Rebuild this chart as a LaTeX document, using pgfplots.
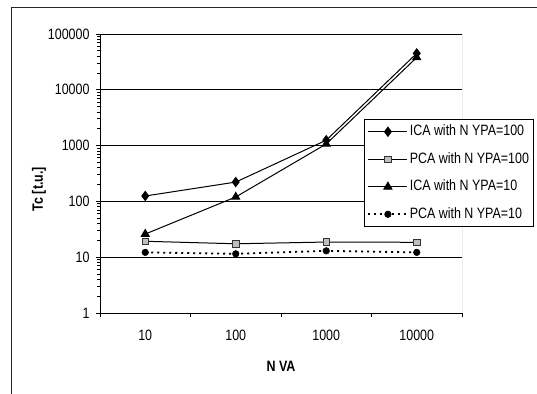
\documentclass[border=0pt]{standalone}
\usepackage{fontspec}
\setmainfont{Liberation Sans}[FakeStretch=0.83]
\usepackage{pgfplots}
\pgfplotsset{compat=1.18}
\begin{document}
\begin{tikzpicture}
\useasboundingbox (0,0) rectangle (537bp,-394bp);
\draw[line width=1bp, black!85] (11.5bp,-400bp) -- (11.5bp,-7.5bp) -- (545bp,-7.5bp);
\begin{axis}[
  at={(100bp,-313bp)}, anchor=south west,
  scale only axis, width=362bp, height=279bp,
  ymode=log, ymin=1, ymax=100000,
  xmin=-0.5, xmax=3.5,
  font=\fontsize{15bp}{17bp}\selectfont,
  /pgf/number format/assume math mode=true,
  axis x line*=bottom, axis y line*=left,
  axis line style={line width=1bp, black},
  tick align=outside,
  major tick length=4bp,
  tick style={line width=1bp, black},
  xtick={-0.5,0.5,1.5,2.5,3.5}, xticklabels={},
  extra x ticks={0,1,2,3},
  extra x tick labels={10,100,1000,10000},
  extra x tick style={major tick length=0pt, xticklabel style={yshift=-14bp}},
  ytick={1,10,100,1000,10000,100000},
  yticklabels={1,10,100,1000,10000,100000},
  yticklabel style={xshift=-3bp},
  ymajorgrids, grid style={line width=1bp, black},
  minor tick num=0,
  xlabel={\bfseries N VA},
  xlabel style={at={(axis description cs:0.5,-0.19)}, anchor=center},
  ylabel={\bfseries Tc [t.u.]},
  ylabel style={at={(axis description cs:-0.1685,0.444)}, anchor=center},
  legend style={at={(0.7293,0.6953)}, anchor=north west, draw=black, fill=white, line width=1bp,
    inner xsep=3bp, inner ysep=4bp, row sep=11bp,
    font=\fontsize{15bp}{17bp}\selectfont,
    nodes={inner sep=1.5bp, text height=10.5bp, text depth=3bp}},
  legend cell align=left,
  legend image code/.code={\draw[mark repeat=2,mark phase=2] plot coordinates {(0bp,0bp)(19.5bp,0bp)(39bp,0bp)};},
]
\draw[line width=1bp, black!55] (rel axis cs:1,0) -- (rel axis cs:1,1);
\addplot[black, line width=1bp, mark=diamond*, mark size=4.5bp, mark options={solid, fill=black}]
  coordinates {(0,125) (1,222) (2,1250) (3,45000)};
\addlegendentry{ICA with N YPA=100}
\addplot[black, line width=1bp, mark=square*, mark size=3.2bp, mark options={solid, fill=black!25, draw=black!80, line width=0.8bp}]
  coordinates {(0,19.3) (1,17.4) (2,18.7) (3,18.5)};
\addlegendentry{PCA with N YPA=100}
\addplot[black, line width=1bp, mark=triangle*, mark size=4.5bp, mark options={solid, fill=black}]
  coordinates {(0,26) (1,120) (2,1070) (3,38000)};
\addlegendentry{ICA with N YPA=10}
\addplot[black, line width=1.8bp, dash pattern=on 2bp off 4bp, mark=*, mark size=3.3bp, mark options={solid, fill=black, line width=0.5bp}]
  coordinates {(0,12.2) (1,11.5) (2,13) (3,12.2)};
\addlegendentry{PCA with N YPA=10}
\end{axis}
\end{tikzpicture}
\end{document}
